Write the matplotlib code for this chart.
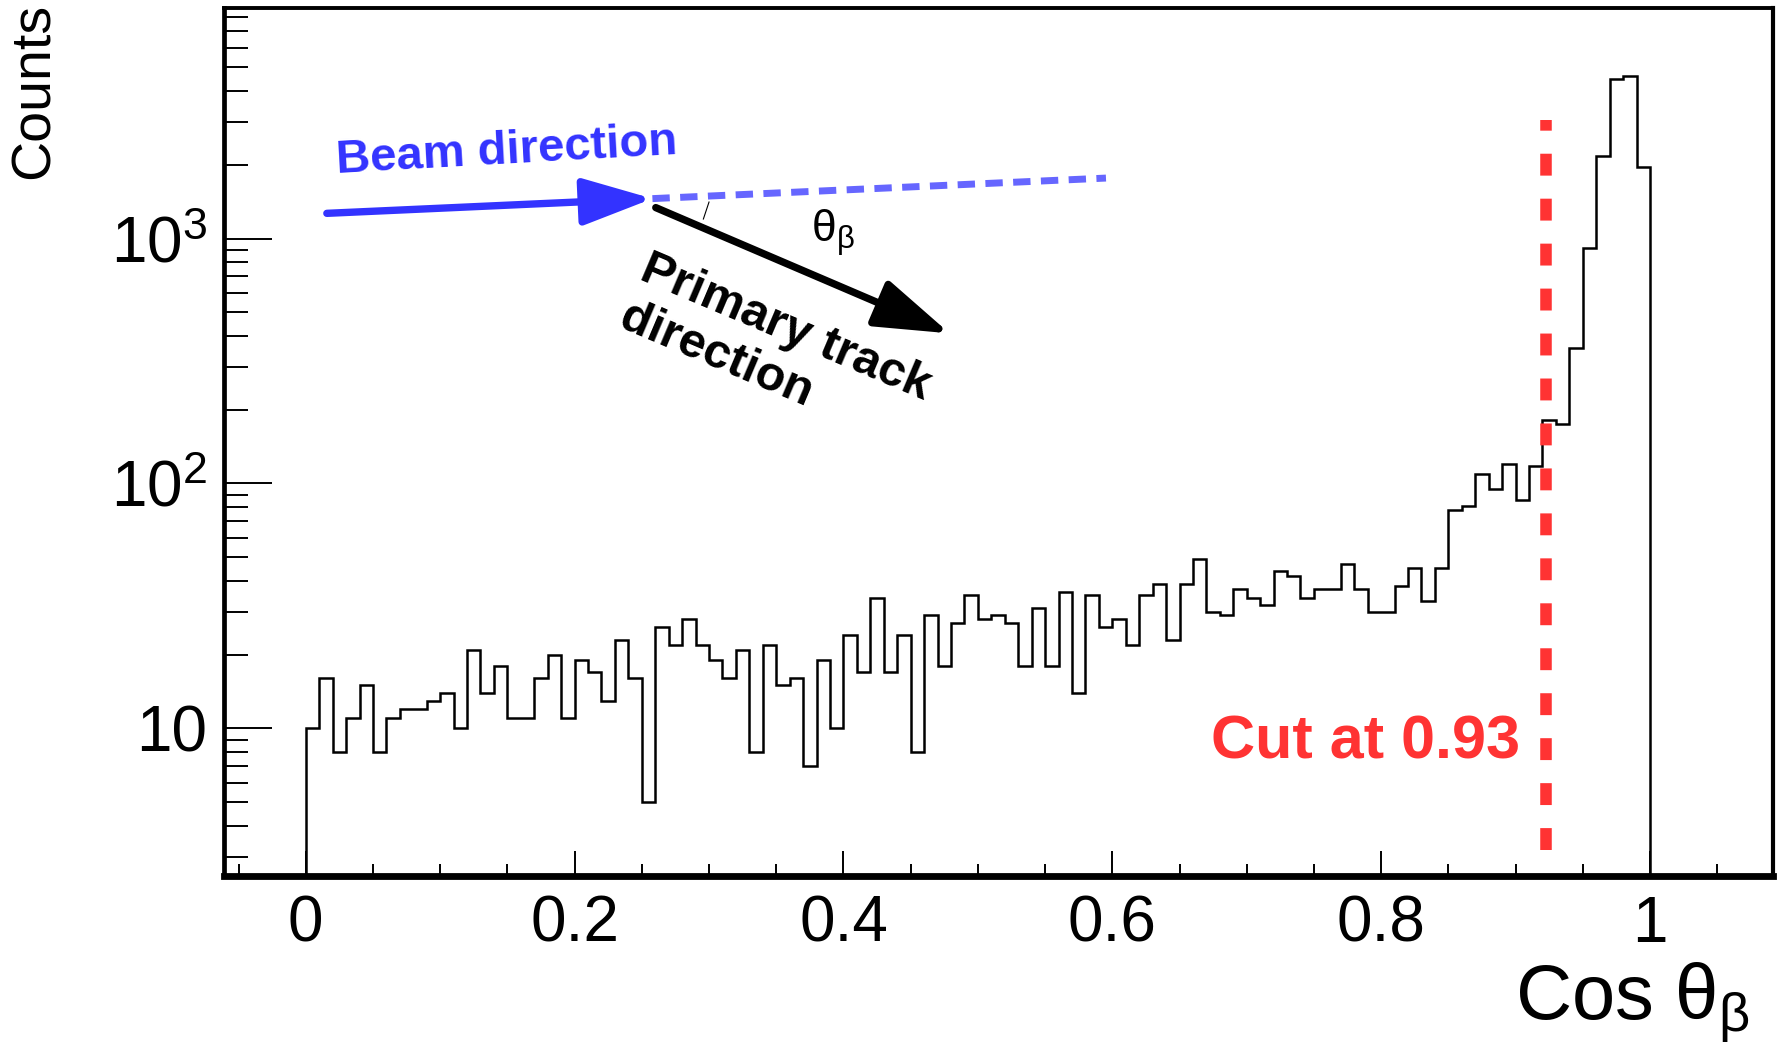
import numpy as np
import matplotlib
matplotlib.use("Agg")
import matplotlib.pyplot as plt
from matplotlib.ticker import FixedLocator, NullFormatter

plt.rcParams['font.family'] = ['Liberation Sans', 'DejaVu Sans']
plt.rcParams['mathtext.fontset'] = 'custom'
plt.rcParams['mathtext.rm'] = 'Liberation Sans'

# histogram of cos(theta_beta), 100 bins of width 0.01 on [0, 1]
bin_edges = np.linspace(0.0, 1.0, 101)
counts = [
    10, 16, 8, 11, 15, 8, 11, 12, 12, 13,
    14, 10, 21, 14, 18, 11, 11, 16, 20, 11,
    19, 17, 13, 23, 16, 5, 26, 22, 28, 22,
    19, 16, 21, 8, 22, 15, 16, 7, 19, 10,
    24, 17, 34, 17, 24, 8, 29, 18, 27, 35,
    28, 29, 27, 18, 31, 18, 36, 14, 35, 26,
    28, 22, 35, 39, 23, 39, 49, 30, 29, 37,
    34, 32, 44, 42, 34, 37, 37, 47, 37, 30,
    30, 38, 45, 33, 45, 78, 81, 109, 95, 120,
    86, 118, 181, 175, 358, 917, 2172, 4478, 4594, 1953,
]
cut_x = 0.9225
cut_label = "Cut at 0.93"

x_ticks_major = [0, 0.2, 0.4, 0.6, 0.8, 1.0]
x_tick_labels = ["0", "0.2", "0.4", "0.6", "0.8", "1"]
y_ticks_major = [10, 100, 1000]
y_tick_labels = ["10", r"$\mathregular{10^{2}}$", r"$\mathregular{10^{3}}$"]

blue = "#3333ff"
light_blue = "#6666ff"
red = "#ff3333"

fig = plt.figure(figsize=(17.79, 10.49), dpi=100)
ax = fig.add_axes([224 / 1779, 173.5 / 1049, 1549 / 1779, 867.5 / 1049])

ax.stairs(counts, bin_edges, baseline=1.0, color="black", lw=1.8)

ax.set_yscale("log")
ax.set_xlim(-0.0608, 1.0915)
ax.set_ylim(2.51, 8730)

# ticks, ROOT style (inward, no ticks on top/right)
ax.xaxis.set_major_locator(FixedLocator(x_ticks_major))
ax.set_xticklabels(x_tick_labels)
ax.xaxis.set_minor_locator(FixedLocator(np.arange(-0.05, 1.1, 0.05)))
ax.yaxis.set_major_locator(FixedLocator(y_ticks_major))
ax.set_yticklabels(y_tick_labels)
minor_y = [m * 10.0 ** e for e in range(0, 4) for m in range(2, 10)]
ax.yaxis.set_minor_locator(FixedLocator(minor_y))
ax.yaxis.set_minor_formatter(NullFormatter())
ax.tick_params(axis="both", which="both", direction="in", width=1.4,
               top=False, right=False, labelsize=46)
ax.tick_params(axis="y", which="major", length=34.5, pad=12)
ax.tick_params(axis="y", which="minor", length=17)
ax.tick_params(axis="x", which="major", length=18, pad=14)
ax.tick_params(axis="x", which="minor", length=9)

ax.spines["left"].set_linewidth(3.4)
ax.spines["bottom"].set_linewidth(4.9)
ax.spines["top"].set_linewidth(2.8)
ax.spines["right"].set_linewidth(3.0)

fig.text(35 / 1779, 1 - 3 / 1049, "Counts", rotation=90, ha="center",
         va="top", fontsize=40)
fig.text(1750 / 1779, 1 - 1020 / 1049, r"Cos $\mathregular{\theta_{\beta}}$",
         ha="right", va="baseline", fontsize=56)

# cut line
ax.plot([cut_x, cut_x], [3.2, 3050], color=red, lw=8.3,
        linestyle=(0, (1.9, 2.0)), solid_capstyle="butt", dash_capstyle="butt")
ax.text(0.9033, 7.57, cut_label, color=red, fontsize=44, fontweight="bold",
        ha="right", va="baseline")

# beam / track sketch
ax.annotate("", xy=(0.2579, 1455), xytext=(0.0157, 1267),
            arrowprops=dict(arrowstyle="-|>,head_length=4.3,head_width=1.45",
                            mutation_scale=10, lw=5.3, color=blue,
                            shrinkA=0, shrinkB=0))
ax.plot([0.2579, 0.5953], [1455, 1765], color=light_blue, lw=5.0,
        linestyle=(0, (2.5, 1.5)), dash_capstyle="butt")
ax.annotate("", xy=(0.4790, 410), xytext=(0.2604, 1337),
            arrowprops=dict(arrowstyle="-|>,head_length=4.6,head_width=1.5",
                            mutation_scale=10, lw=5.3, color="black",
                            shrinkA=0, shrinkB=0))
ax.plot([0.2958, 0.3000], [1201, 1409], color="black", lw=0.8)
ax.text(0.3925, 1060, r"$\mathregular{\theta_{\beta}}$", fontsize=32,
        ha="center", va="center")
ax.text(0.1497, 2276, "Beam direction", color=blue, fontsize=34,
        fontweight="bold", rotation=3.2, ha="center", va="center",
        rotation_mode="anchor")
ax.text(0.2338, 463, "Primary track\ndirection", fontsize=35, fontweight="bold",
        rotation=-23, ha="left", va="baseline", rotation_mode="anchor",
        linespacing=1.2, multialignment="left")

fig.savefig("out.png", dpi=100)
